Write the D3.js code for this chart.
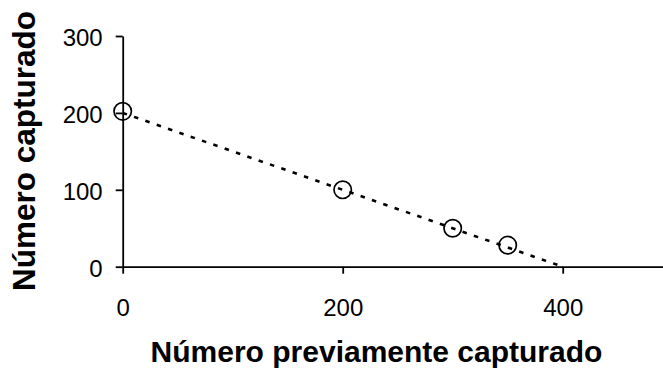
<!DOCTYPE html>
<html>
<head>
<meta charset="utf-8">
<script src="https://cdn.jsdelivr.net/npm/d3@7"></script>
<style>
  html, body { margin: 0; padding: 0; background: #fff; }
  svg { display: block; }
</style>
</head>
<body>
<svg id="chart" width="663" height="376"></svg>
<script>
// Data
const previouslyCaptured = [0, 200, 300, 350];
const captured = [202, 100, 50, 28];
const fitLineX = [0, 400];
const fitLineY = [200, 0];
const xTicks = [0, 200, 400];
const yTicks = [0, 100, 200, 300];
const xTitle = "Número previamente capturado";
const yTitle = "Número capturado";

const svg = d3.select("#chart");
const W = 663, H = 376;

const x = d3.scaleLinear().domain([0, 400]).range([122.7, 562.7]);
const y = d3.scaleLinear().domain([0, 300]).range([266.7, 36]);
const xEnd = x.invert(W);

// X axis
const xAxis = d3.axisBottom(d3.scaleLinear().domain([0, xEnd]).range([122.7, W]))
  .tickValues(xTicks).tickSize(7).tickSizeOuter(0).tickPadding(25.6)
  .tickFormat(d3.format("d"));
const gx = svg.append("g").attr("transform", `translate(0,${y(0)})`).call(xAxis);
gx.select(".domain").attr("stroke", "#000").attr("stroke-width", 1.8);
gx.selectAll(".tick line").attr("stroke", "#000").attr("stroke-width", 1.8);
gx.selectAll(".tick text")
  .attr("font-family", "'Liberation Sans', Arial, sans-serif")
  .attr("font-size", 24).attr("fill", "#000");

// Y axis
const yAxis = d3.axisLeft(y).tickValues(yTicks).tickSize(7).tickSizeOuter(0).tickPadding(13)
  .tickFormat(d3.format("d"));
const gy = svg.append("g").attr("transform", `translate(${x(0)},0)`).call(yAxis);
gy.select(".domain").attr("stroke", "#000").attr("stroke-width", 1.8);
gy.selectAll(".tick line").attr("stroke", "#000").attr("stroke-width", 1.8);
gy.selectAll(".tick text")
  .attr("font-family", "'Liberation Sans', Arial, sans-serif")
  .attr("font-size", 24).attr("fill", "#000").attr("dy", "0.4em");

// Fitted dashed line
const lineData = fitLineX.map((d, i) => [d, fitLineY[i]]);
svg.append("path")
  .datum(lineData)
  .attr("d", d3.line().x(d => x(d[0])).y(d => y(d[1])))
  .attr("fill", "none")
  .attr("stroke", "#000")
  .attr("stroke-width", 2.6)
  .attr("stroke-dasharray", "4.5,7.5");

// Points
svg.append("g").selectAll("circle")
  .data(previouslyCaptured.map((d, i) => [d, captured[i]]))
  .join("circle")
  .attr("cx", d => x(d[0]))
  .attr("cy", d => y(d[1]))
  .attr("r", 8.7)
  .attr("fill", "none")
  .attr("stroke", "#000")
  .attr("stroke-width", 1.7);

// Titles
svg.append("text")
  .attr("x", 376.5).attr("y", 361.5)
  .attr("text-anchor", "middle")
  .attr("font-family", "'Liberation Sans', Arial, sans-serif")
  .attr("font-weight", "bold").attr("font-size", 30)
  .attr("fill", "#000")
  .text(xTitle);

svg.append("text")
  .attr("transform", "translate(35,151) rotate(-90)")
  .attr("text-anchor", "middle")
  .attr("font-family", "'Liberation Sans', Arial, sans-serif")
  .attr("font-weight", "bold").attr("font-size", 31.5)
  .attr("fill", "#000")
  .text(yTitle);
</script>
</body>
</html>
